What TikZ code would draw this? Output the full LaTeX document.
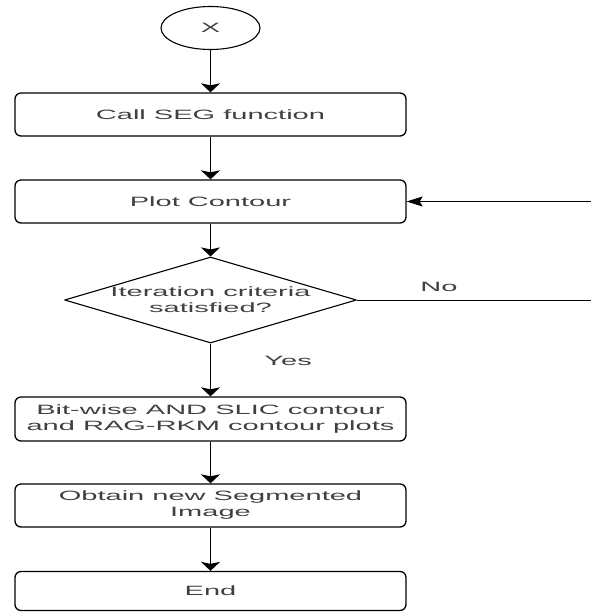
\documentclass[tikz,border=0pt]{standalone}
\usepackage{fontspec}
\usetikzlibrary{shapes.geometric,arrows.meta}
\newfontfamily\flowfont[FakeStretch=2.15]{Liberation Sans}

\begin{document}
\begin{tikzpicture}[x=1pt,y=-1pt,line join=round,
	font={\flowfont\fontsize{13.5}{16}\selectfont},text=black!75,
	box/.style={draw,rounded corners=6pt,line width=1.3pt,minimum width=391pt,minimum height=43pt,inner sep=0pt,align=center},
	down/.style={-{Stealth[length=9pt,width=19pt,inset=2pt]},line width=1.8pt},
	back/.style={-{Stealth[length=16pt,width=10pt,inset=3pt]},line width=1pt}]
	\useasboundingbox (0,0) rectangle (591,612);
	% flow boxes
	\node[draw,ellipse,minimum width=99pt,minimum height=43pt,inner sep=0pt,line width=1.1pt] (start) at (210.5,28) {X};
	\node[box] (seg) at (210.5,114.5) {Call SEG function};
	\node[box] (plot) at (210.5,201.5) {Plot Contour};
	\node[draw,diamond,aspect=3.4,inner xsep=-7pt,inner ysep=0pt,minimum width=292pt,minimum height=86pt,align=center,line width=1.1pt] (iter) at (210.5,300) {Iteration criteria\\satisfied?};
	\node[box,minimum height=44pt] (bitwise) at (210.5,419) {Bit-wise AND SLIC contour\\and RAG-RKM contour plots};
	\node[box] (obtain) at (210.5,505.5) {Obtain new Segmented\\Image};
	\node[box,minimum height=39pt] (end) at (210.5,591) {End};
	\coordinate (noend) at (591,300);
	\coordinate (loopin) at (591,201.5);
	% arrows
	\foreach \a/\b in {start/seg,seg/plot,plot/iter,bitwise/obtain,obtain/end}
	\draw[down] (\a) -- (\b);
	\draw[down] (iter) -- (bitwise) node[pos=0.33,right=53pt,inner sep=0pt]{Yes};
	\draw[line width=1pt] (iter.east) -- (noend) node[pos=0.35,above=8pt,inner sep=0pt]{No};
	\draw[back] (loopin) -- (plot.east);
\end{tikzpicture}
\end{document}
